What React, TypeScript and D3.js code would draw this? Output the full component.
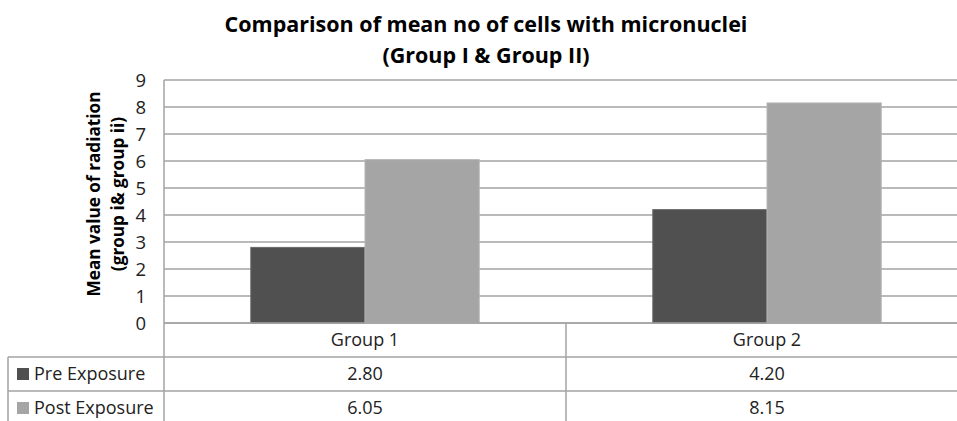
import React from "react";
import * as d3 from "d3";

const categories = ["Group 1", "Group 2"];
const seriesNames = ["Pre Exposure", "Post Exposure"];
const preExposure = [2.8, 4.2];
const postExposure = [6.05, 8.15];
const valueLabels = [["2.80", "4.20"], ["6.05", "8.15"]];
const yTicks = [0, 1, 2, 3, 4, 5, 6, 7, 8, 9];
const titleLines = ["Comparison of mean no of cells with micronuclei", "(Group I & Group II)"];
const yTitleLines = ["Mean value of radiation", "(group i& group ii)"];

const W = 957;
const H = 421;
const FONT = "'Open Sans', Lato, sans-serif";
const colors = ["#505050", "#a5a5a5"];
const strokeColors = ["#6a6a6a", "#b5b5b5"];
const gridColor = "#a3a3a3";

export default function App() {
  const plotLeft = 164;
  const plotRight = 968;
  const plotTop = 80;
  const plotBottom = 323;
  const rowH = 34;
  const tableLeft = 8;

  const y = d3.scaleLinear().domain([0, 9]).range([plotBottom, plotTop]);
  const x0 = d3.scaleBand().domain(categories).range([plotLeft, plotRight]);
  const x1 = d3
    .scaleBand()
    .domain(seriesNames)
    .range([0, x0.bandwidth()])
    .paddingInner(0)
    .paddingOuter(0.76);

  const seriesValues = [preExposure, postExposure];

  return (
    <svg width={W} height={H} style={{ position: "absolute", left: 0, top: 0, background: "#fff" }}>
      <rect x={0} y={0} width={W} height={H} fill="#fff" />
      {/* Title */}
      {titleLines.map((t, i) => (
        <text
          key={t}
          x={486}
          y={32 + i * 31}
          textAnchor="middle"
          fontFamily={FONT}
          fontWeight="bold"
          fontSize={21.5}
          fill="#000"
        >
          {t}
        </text>
      ))}
      {/* Gridlines */}
      {yTicks.map((t) => (
        <line
          key={t}
          x1={plotLeft}
          x2={W}
          y1={y(t)}
          y2={y(t)}
          stroke={gridColor}
          strokeWidth={1.5}
        />
      ))}
      {/* Y tick labels */}
      {yTicks.map((t) => (
        <text
          key={"l" + t}
          x={146}
          y={y(t)}
          dy="0.36em"
          textAnchor="end"
          fontFamily={FONT}
          fontSize={18.5}
          fill="#222"
        >
          {t}
        </text>
      ))}
      {/* Y title */}
      {yTitleLines.map((t, i) => (
        <text
          key={t}
          transform={`translate(${100 + i * 24},${194}) rotate(-90)`}
          textAnchor="middle"
          fontFamily={FONT}
          fontWeight="bold"
          fontSize={17.2}
          fill="#000"
        >
          {t}
        </text>
      ))}
      {/* Bars */}
      {categories.map((c, ci) =>
        seriesNames.map((s, si) => {
          const v = seriesValues[si][ci];
          const bx = (x0(c) ?? 0) + (x1(s) ?? 0);
          return (
            <rect
              key={c + s}
              x={bx}
              y={y(v)}
              width={x1.bandwidth()}
              height={y(0) - y(v)}
              fill={colors[si]}
              stroke={strokeColors[si]}
              strokeWidth={1}
            />
          );
        })
      )}
      {/* Table lines */}
      <line x1={plotLeft} x2={W} y1={plotBottom} y2={plotBottom} stroke={gridColor} strokeWidth={1.5} />
      <line x1={tableLeft} x2={W} y1={plotBottom + rowH} y2={plotBottom + rowH} stroke={gridColor} strokeWidth={1.5} />
      <line x1={tableLeft} x2={W} y1={plotBottom + 2 * rowH} y2={plotBottom + 2 * rowH} stroke={gridColor} strokeWidth={1.5} />
      <line x1={tableLeft} x2={tableLeft} y1={plotBottom + rowH} y2={H} stroke={gridColor} strokeWidth={1.5} />
      <line x1={plotLeft} x2={plotLeft} y1={plotTop} y2={H} stroke={gridColor} strokeWidth={1.5} />
      {categories.slice(1).map((c) => (
        <line
          key={"v" + c}
          x1={x0(c)}
          x2={x0(c)}
          y1={plotBottom}
          y2={H}
          stroke={gridColor}
          strokeWidth={1.5}
        />
      ))}
      {/* Category labels */}
      {categories.map((c) => (
        <text
          key={"c" + c}
          x={(x0(c) ?? 0) + x0.bandwidth() / 2}
          y={plotBottom + rowH / 2}
          dy="0.36em"
          textAnchor="middle"
          fontFamily={FONT}
          fontSize={18}
          fill="#222"
        >
          {c}
        </text>
      ))}
      {/* Legend rows */}
      {seriesNames.map((s, si) => {
        const rowY = plotBottom + rowH * (si + 1) + rowH / 2;
        return (
          <g key={"row" + s}>
            <rect x={17} y={rowY - 6} width={12} height={12} fill={colors[si]} />
            <text
              x={34}
              y={rowY}
              dy="0.36em"
              fontFamily={FONT}
              fontSize={18}
              fill="#222"
            >
              {s}
            </text>
            {categories.map((c, ci) => (
              <text
                key={"val" + c}
                x={(x0(c) ?? 0) + x0.bandwidth() / 2}
                y={rowY}
                dy="0.36em"
                textAnchor="middle"
                fontFamily={FONT}
                fontSize={18}
                fill="#222"
              >
                {valueLabels[si][ci]}
              </text>
            ))}
          </g>
        );
      })}
    </svg>
  );
}
